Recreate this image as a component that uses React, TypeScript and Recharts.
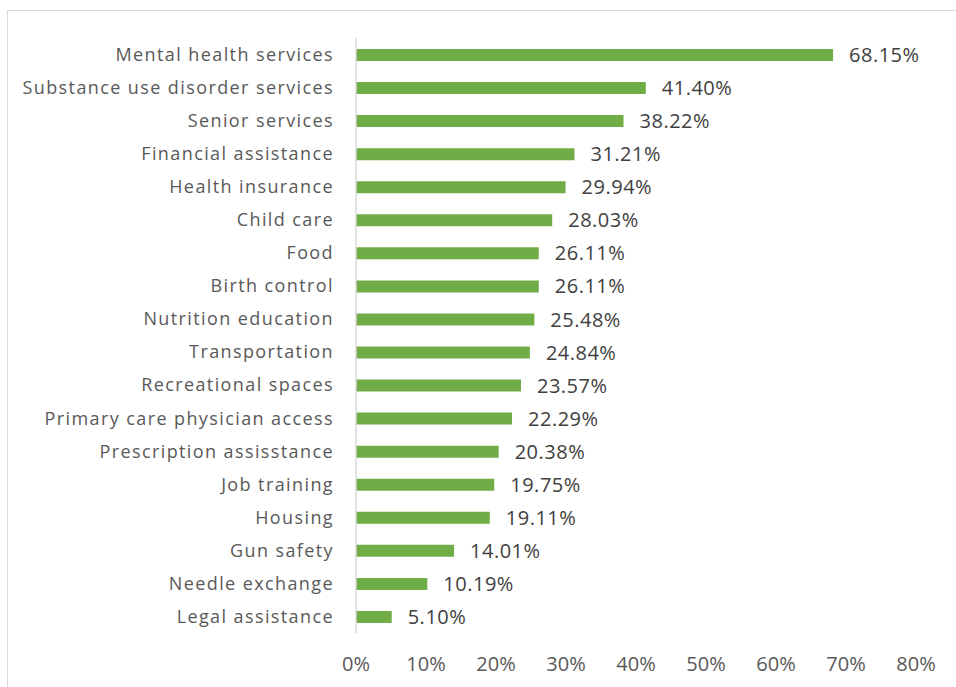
import React from 'react';
import { BarChart, Bar, XAxis, YAxis, LabelList } from 'recharts';

// Service categories, top to bottom
const categories = [
  'Mental health services',
  'Substance use disorder services',
  'Senior services',
  'Financial assistance',
  'Health insurance',
  'Child care',
  'Food',
  'Birth control',
  'Nutrition education',
  'Transportation',
  'Recreational spaces',
  'Primary care physician access',
  'Prescription assisstance',
  'Job training',
  'Housing',
  'Gun safety',
  'Needle exchange',
  'Legal assistance',
];

const percents = [
  68.15, 41.4, 38.22, 31.21, 29.94, 28.03, 26.11, 26.11, 25.48, 24.84, 23.57,
  22.29, 20.38, 19.75, 19.11, 14.01, 10.19, 5.1,
];

const xTicks = [0, 10, 20, 30, 40, 50, 60, 70, 80];

const FONT = '"Open Sans", Lato, sans-serif';

const data = categories.map((name, i) => ({ name, value: percents[i] }));

export default function App() {
  return (
    <div style={{ position: 'absolute', left: 0, top: 0, width: 956, height: 687, background: '#fff', overflow: 'hidden' }}>
      <div
        style={{
          position: 'absolute',
          left: 7,
          top: 10,
          width: 1000,
          height: 1000,
          border: '1px solid #d9d9d9',
        }}
      />
      <div style={{ position: 'absolute', left: 0, top: 0 }}>
        <BarChart
          width={956}
          height={687}
          data={data}
          layout="vertical"
          margin={{ top: 38, right: 40, bottom: 0, left: 0 }}
          barCategoryGap={0}
        >
          <XAxis
            type="number"
            domain={[0, 80]}
            ticks={xTicks}
            tickFormatter={(v: number) => `${v}%`}
            axisLine={false}
            tickLine={false}
            tickMargin={18}
            height={54}
            interval={0}
            tick={{ fill: '#595959', fontSize: 20, fontFamily: FONT }}
          />
          <YAxis
            type="category"
            dataKey="name"
            width={356}
            axisLine={{ stroke: '#d9d9d9', strokeWidth: 1.5 }}
            tickLine={false}
            tickMargin={16}
            interval={0}
            tick={{ fill: '#595959', fontSize: 18, fontFamily: FONT, letterSpacing: 1.4 }}
          />
          <Bar dataKey="value" fill="#70ad47" barSize={12} isAnimationActive={false}>
            <LabelList
              dataKey="value"
              position="right"
              offset={16}
              formatter={(v: number) => `${v.toFixed(2)}%`}
              style={{ fill: '#404040', fontSize: 20, fontFamily: FONT, letterSpacing: 0.5 }}
            />
          </Bar>
        </BarChart>
      </div>
    </div>
  );
}
